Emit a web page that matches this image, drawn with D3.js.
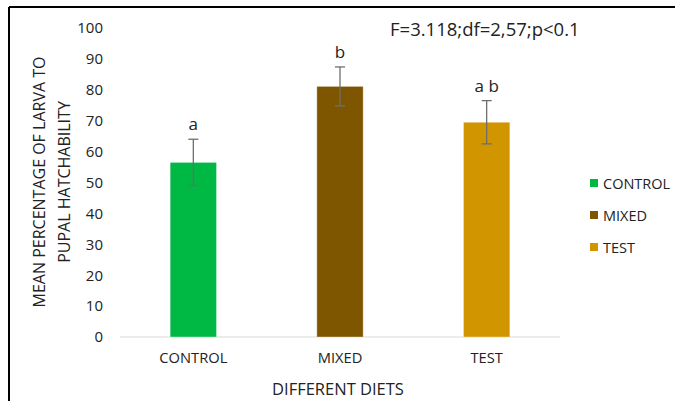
<!DOCTYPE html>
<html>
<head>
<meta charset="utf-8">
<script src="https://cdn.jsdelivr.net/npm/d3@7"></script>
<style>
  body { margin: 0; background: #fff; }
  text { font-family: "Open Sans", "Liberation Sans", sans-serif; fill: #222; }
</style>
</head>
<body>
<div id="chart"></div>
<script>
    const width = 675
    const height = 401

    // data
    const diets = ["CONTROL", "MIXED", "TEST"]
    const means = [56.5, 81.1, 69.5]
    const errors = [7.5, 6.3, 7.0]
    const letters = ["a", "b", "a b"]
    const colors = ["#00b944", "#7f5600", "#d19500"]
    const yTicks = [0, 10, 20, 30, 40, 50, 60, 70, 80, 90, 100]

    const plot = {left: 120, right: 560, top: 28, bottom: 337}

    const svg = d3.select("#chart")
        .append("svg")
        .attr("width", width)
        .attr("height", height)

    // frame: only top and left edges show
    svg.append("line")
        .attr("x1", 9).attr("y1", 7).attr("x2", width).attr("y2", 7)
        .style("stroke", "#000").style("stroke-width", 2)
    svg.append("line")
        .attr("x1", 9).attr("y1", 7).attr("x2", 9).attr("y2", height)
        .style("stroke", "#000").style("stroke-width", 2)

    const x = d3.scaleBand()
        .domain(diets)
        .range([plot.left, plot.right])
        .paddingInner(0.684)
        .paddingOuter(0.342)

    const y = d3.scaleLinear()
        .domain([0, 100])
        .range([plot.bottom, plot.top])

    // y axis: labels only
    const yAxis = svg.append("g")
        .attr("transform", "translate(" + plot.left + ",0)")
        .call(d3.axisLeft(y).tickValues(yTicks).tickSize(0).tickPadding(17))
    yAxis.select(".domain").remove()
    yAxis.selectAll("text")
        .style("font-size", "15px")
        .style("fill", "#222")

    // baseline
    svg.append("line")
        .attr("x1", plot.left).attr("x2", plot.right)
        .attr("y1", y(0)).attr("y2", y(0))
        .style("stroke", "#d9d9d9").style("stroke-width", 1)

    const xAxis = svg.append("g")
        .attr("transform", "translate(0," + y(0) + ")")
        .call(d3.axisBottom(x).tickSize(0).tickPadding(16))
    xAxis.select(".domain").remove()
    xAxis.selectAll("text")
        .style("font-size", "14.7px")
        .style("fill", "#222")

    // bars
    svg.selectAll(".bar")
        .data(diets)
        .enter()
        .append("rect")
        .attr("class", "bar")
        .attr("x", d => x(d))
        .attr("y", (d, i) => y(means[i]))
        .attr("width", x.bandwidth())
        .attr("height", (d, i) => y(0) - y(means[i]))
        .attr("fill", (d, i) => colors[i])
        .style("stroke", "rgba(255,255,255,0.35)")
        .style("stroke-width", 1)

    // error bars
    const cap = 5
    diets.forEach((d, i) => {
        const cx = x(d) + x.bandwidth() / 2
        const g = svg.append("g").style("stroke", "#6e6e6e").style("stroke-width", 1.3)
        g.append("line")
            .attr("x1", cx).attr("x2", cx)
            .attr("y1", y(means[i] + errors[i])).attr("y2", y(means[i] - errors[i]))
        g.append("line")
            .attr("x1", cx - cap).attr("x2", cx + cap)
            .attr("y1", y(means[i] + errors[i])).attr("y2", y(means[i] + errors[i]))
        g.append("line")
            .attr("x1", cx - cap).attr("x2", cx + cap)
            .attr("y1", y(means[i] - errors[i])).attr("y2", y(means[i] - errors[i]))
    })

    // significance letters
    svg.selectAll(".letter")
        .data(diets)
        .enter()
        .append("text")
        .attr("class", "letter")
        .attr("x", d => x(d) + x.bandwidth() / 2)
        .attr("y", (d, i) => y(means[i] + errors[i]) - 9)
        .attr("text-anchor", "middle")
        .style("font-size", "17px")
        .text((d, i) => letters[i])

    // stats annotation
    svg.append("text")
        .attr("x", 390)
        .attr("y", 36)
        .style("font-size", "18.5px")
        .text("F=3.118;df=2,57;p<0.1")

    // axis titles
    svg.append("text")
        .attr("x", 338)
        .attr("y", 395)
        .attr("text-anchor", "middle")
        .style("font-size", "16.5px")
        .text("DIFFERENT DIETS")

    const yTitle = svg.append("text")
        .attr("transform", "translate(45,182) rotate(-90)")
        .attr("text-anchor", "middle")
        .style("font-size", "16px")
    yTitle.append("tspan").attr("x", 0).attr("dy", 0).text("MEAN PERCENTAGE OF LARVA TO")
    yTitle.append("tspan").attr("x", 0).attr("dy", 25).text("PUPAL HATCHABILITY")

    // legend
    const legend = svg.selectAll(".legend")
        .data(diets)
        .enter()
        .append("g")
        .attr("class", "legend")
        .attr("transform", (d, i) => "translate(590," + (183 + i * 32) + ")")
    legend.append("rect")
        .attr("x", 0).attr("y", -4)
        .attr("width", 8).attr("height", 8)
        .attr("fill", (d, i) => colors[i])
    legend.append("text")
        .attr("x", 13)
        .attr("y", 5.5)
        .style("font-size", "14.5px")
        .text(d => d)
</script>
</body>
</html>
